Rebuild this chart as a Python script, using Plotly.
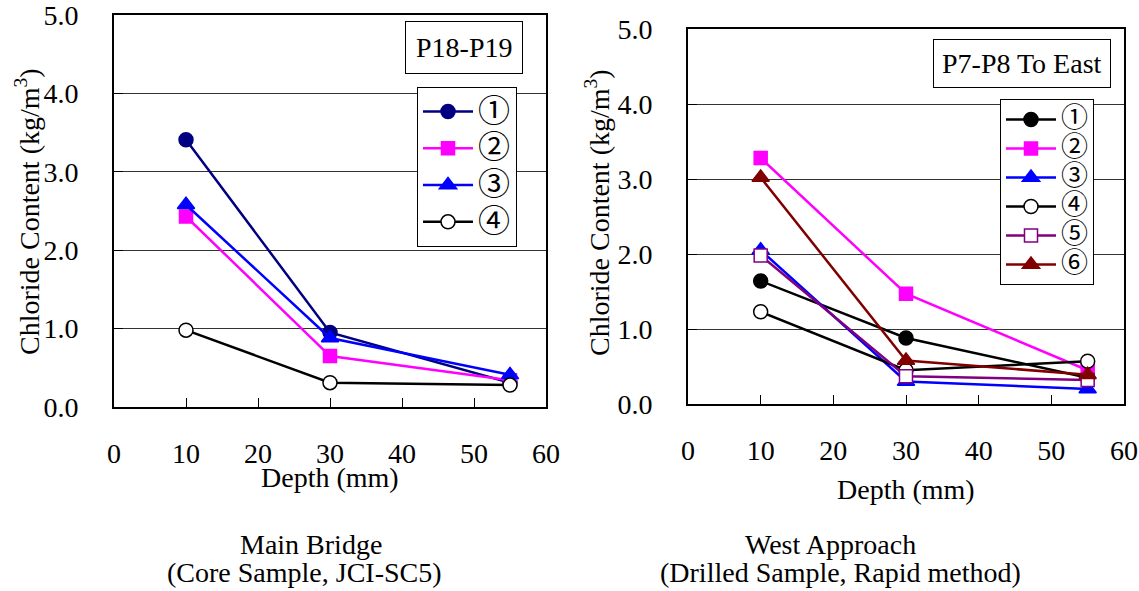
import plotly.graph_objects as go

# Depths (mm) at which chloride content was measured
depth = [10, 30, 55]

# Main Bridge, P18-P19 (kg/m3)
main_names = ["①", "②", "③", "④"]
main_1 = [3.41, 0.95, 0.31]
main_2 = [2.43, 0.65, 0.34]
main_3 = [2.58, 0.88, 0.41]
main_4 = [0.98, 0.31, 0.28]

# West Approach, P7-P8 To East (kg/m3)
west_names = ["①", "②", "③", "④", "⑤", "⑥"]
west_1 = [1.64, 0.88, 0.35]
west_2 = [3.28, 1.47, 0.45]
west_3 = [2.05, 0.30, 0.20]
west_4 = [1.23, 0.45, 0.57]
west_5 = [1.98, 0.37, 0.32]
west_6 = [3.02, 0.58, 0.39]

y_ticks = [0, 1, 2, 3, 4, 5]
y_ticklabels = ["0.0", "1.0", "2.0", "3.0", "4.0", "5.0"]
x_ticks = [0, 10, 20, 30, 40, 50, 60]

FONT = "Liberation Serif, Times New Roman, serif"
LEG_FONT = "Noto Sans CJK JP, Liberation Serif, serif"
W, H = 1139, 591
FS = 28

fig = go.Figure()

def add_series(name, ys, color, symbol, fill, size, xa, ya, legend, glyph_px):
    label = "<span style='font-size:%dpx'>%s</span>" % (glyph_px, name)
    fig.add_trace(go.Scatter(
        x=depth, y=ys, name=label, mode="lines+markers",
        line=dict(color=color, width=2.5),
        marker=dict(symbol=symbol, size=size, color=fill,
                    line=dict(color=color, width=1.5)),
        xaxis=xa, yaxis=ya, legend=legend,
    ))

main_series = [
    (main_1, "#000080", "circle", "#000080", 14),
    (main_2, "#FF00FF", "square", "#FF00FF", 13),
    (main_3, "#0000FF", "triangle-up", "#0000FF", 15),
    (main_4, "#000000", "circle", "#FFFFFF", 14),
]
for name, (ys, c, s, f, sz) in zip(main_names, main_series):
    add_series(name, ys, c, s, f, sz, "x", "y", "legend", 32)

west_series = [
    (west_1, "#000000", "circle", "#000000", 14),
    (west_2, "#FF00FF", "square", "#FF00FF", 13),
    (west_3, "#0000FF", "triangle-up", "#0000FF", 15),
    (west_4, "#000000", "circle", "#FFFFFF", 14),
    (west_5, "#800080", "square", "#FFFFFF", 13),
    (west_6, "#800000", "triangle-up", "#800000", 15),
]
for name, (ys, c, s, f, sz) in zip(west_names, west_series):
    add_series(name, ys, c, s, f, sz, "x2", "y2", "legend2", 27)

def px_x(p):
    return p / W

def px_y(p):
    return 1 - p / H

xa_common = dict(range=[0, 60], tickvals=x_ticks, ticks="inside", ticklen=9,
                 tickcolor="#000", showline=True, linecolor="#000", linewidth=2,
                 mirror=True, showgrid=False, zeroline=False, automargin=False,
                 ticklabelstandoff=20, ticklabeloverflow="allow",
                 tickfont=dict(family=FONT, size=FS, color="#000"))
ya_common = dict(range=[0, 5], tickvals=y_ticks, ticktext=y_ticklabels,
                 ticks="inside", ticklen=9, tickcolor="#000",
                 showline=True, linecolor="#000", linewidth=2, mirror=True,
                 showgrid=True, gridcolor="#333", gridwidth=1, zeroline=False,
                 automargin=False, ticklabelstandoff=28, ticklabeloverflow="allow",
                 tickfont=dict(family=FONT, size=FS, color="#000"))

fig.update_layout(
    width=W, height=H,
    margin=dict(l=0, r=0, t=0, b=0, autoexpand=False),
    paper_bgcolor="#FFFFFF", plot_bgcolor="#FFFFFF",
    font=dict(family=FONT, size=FS, color="#000"),
    xaxis=dict(domain=[px_x(114), px_x(546)], anchor="y", **xa_common),
    yaxis=dict(domain=[px_y(407), px_y(15)], anchor="x", **ya_common),
    xaxis2=dict(domain=[px_x(688), px_x(1124)], anchor="y2", **xa_common),
    yaxis2=dict(domain=[px_y(404), px_y(29)], anchor="x2", **ya_common),
    legend=dict(x=px_x(417), y=px_y(87), xanchor="left", yanchor="top",
                bgcolor="#FFFFFF", bordercolor="#000", borderwidth=1,
                font=dict(family=LEG_FONT, size=26, color="#000"),
                itemwidth=50),
    legend2=dict(x=px_x(1000), y=px_y(99), xanchor="left", yanchor="top",
                 bgcolor="#FFFFFF", bordercolor="#000", borderwidth=1,
                 font=dict(family=LEG_FONT, size=20, color="#000"),
                 itemwidth=50),
    showlegend=True,
)

def note(text, x, y, **kw):
    d = dict(text=text, x=px_x(x), y=px_y(y), xref="paper", yref="paper",
             xanchor="center", yanchor="middle", showarrow=False,
             font=dict(family=FONT, size=FS, color="#000"))
    d.update(kw)
    return d

annotations = [
    # panel labels
    note("P18-P19", 464, 47, bordercolor="#000", borderwidth=1, borderpad=10,
         bgcolor="#FFFFFF"),
    note("P7-P8 To East", 1022, 64, bordercolor="#000", borderwidth=1,
         borderpad=8, bgcolor="#FFFFFF"),
    # axis titles
    note("Chloride Content (kg/m<sup>3</sup>)", 27, 212, textangle=-90),
    note("Chloride Content (kg/m<sup>3</sup>)", 597, 213, textangle=-90),
    note("Depth (mm)", 330, 478),
    note("Depth (mm)", 906, 489),
    # captions
    note("Main Bridge", 311, 544),
    note("(Core Sample, JCI-SC5)", 304, 572),
    note("West Approach", 830, 544),
    note("(Drilled Sample, Rapid method)", 840, 572),
]
fig.update_layout(annotations=annotations)

fig.write_html("out.html")
